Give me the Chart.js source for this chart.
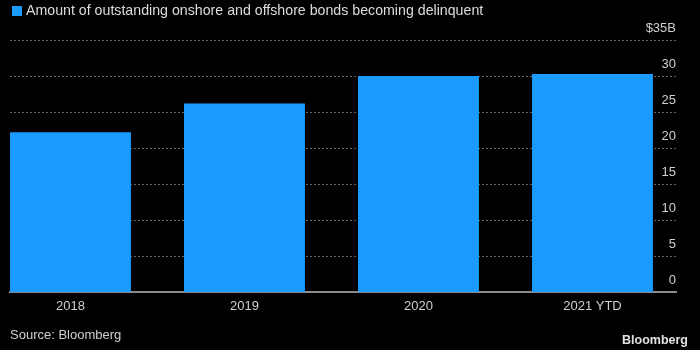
<!DOCTYPE html>
<html>
<head>
<meta charset="utf-8">
<script src="https://cdn.jsdelivr.net/npm/chart.js@4"></script>
<style>
html,body{margin:0;padding:0;background:#000;}
#wrap{position:relative;width:700px;height:350px;background:#000;font-family:"Liberation Sans",Arial,sans-serif;}
#legend{position:absolute;left:12px;top:2px;font-size:14.2px;color:#dcdcdc;line-height:16px;white-space:nowrap;}
#legend span{display:inline-block;width:10px;height:10px;background:#1b9bff;margin-right:4px;vertical-align:-1px;}
#source{position:absolute;left:10px;top:327px;font-size:13px;color:#cfcfcf;}
#logo{position:absolute;right:12px;top:333px;font-size:12.5px;font-weight:bold;color:#e0e0e0;}
</style>
</head>
<body>
<div id="wrap">
<canvas id="chart" width="700" height="350"></canvas>
<div id="legend"><span></span>Amount of outstanding onshore and offshore bonds becoming delinquent</div>
<div id="source">Source: Bloomberg</div>
<div id="logo">Bloomberg</div>
</div>
<script>
// data, billions of dollars
const categories = ['2018', '2019', '2020', '2021 YTD'];
const delinquent = [22.2, 26.2, 30.0, 30.3];
const yTicks = [0, 5, 10, 15, 20, 25, 30, 35];

document.addEventListener('DOMContentLoaded', ()=>{
const ctx = document.getElementById('chart').getContext('2d');
Chart.defaults.font.family = '"Liberation Sans", Arial, sans-serif';
Chart.defaults.color = '#cfcfcf';

new Chart(ctx, {
  type:'bar',
  data:{
    datasets:[{
      label:'Amount of outstanding onshore and offshore bonds becoming delinquent',
      data: delinquent.map((v,i)=>({x:i, y:v})),
      backgroundColor:'#1b9bff',
      borderWidth:0,
      categoryPercentage:1,
      barPercentage:0.695
    }]
  },
  options:{
    responsive:false,
    animation:false,
    layout:{padding:{top:40, left:10, right:24, bottom:30}},
    plugins:{legend:{display:false}, tooltip:{enabled:false}},
    scales:{
      x:{
        type:'linear',
        offset:false,
        min:-0.3477,
        max:3.48,
        afterBuildTicks: s => { s.ticks = categories.map((c,i)=>({value:i})); },
        ticks:{callback: v => categories[v], font:{size:13}, color:'#cfcfcf', padding:6, autoSkip:false, maxRotation:0},
        grid:{display:false, drawTicks:false, offset:false},
        border:{display:true, color:'#8a8a8a', width:2}
      },
      y:{
        position:'right',
        min:0,
        max:35,
        afterBuildTicks: s => { s.ticks = yTicks.map(v=>({value:v})); },
        ticks:{mirror:true, padding:0, labelOffset:-12, font:{size:13}, color:'#cfcfcf',
          callback: v => v === 35 ? '$35B' : v},
        grid:{color:'#666666', lineWidth:1, drawTicks:false},
        border:{display:false, dash:[2,2]}
      }
    }
  }
});
});
</script>
</body>
</html>
